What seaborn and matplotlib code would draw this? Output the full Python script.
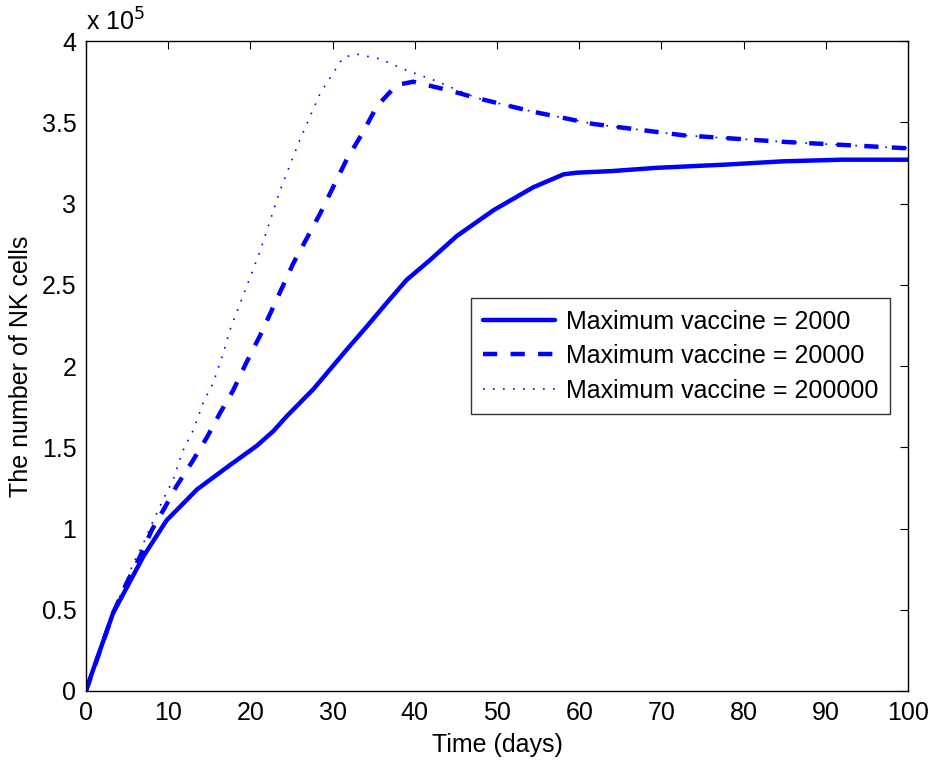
import numpy as np
import pandas as pd
import matplotlib
matplotlib.use("Agg")
import matplotlib.pyplot as plt
import seaborn as sns
from matplotlib.ticker import FuncFormatter

# ========== 1. Data (NK cells) ==========
t_2000 = [0, 0.1, 3.3, 7.0, 9.8, 13.5, 17.5, 20.8, 22.8, 24.4, 27.7, 31.7, 34.1,
          36.6, 39.0, 41.8, 45.1, 49.6, 54.4, 58.1, 59.7, 64.0, 69.4, 77.9, 84.8,
          92.0, 100]
nk_2000 = [0, 2000, 48000, 83000, 105000, 124000, 139000, 151000, 160000, 169000,
           186000, 210000, 224000, 239000, 253000, 265000, 280000, 296000, 310000,
           318000, 319000, 320000, 322000, 324000, 326000, 327000, 327000]

t_20000 = [0, 3.3, 4.9, 6.6, 8.0, 9.6, 11.0, 12.9, 14.7, 16.3, 17.9, 19.5, 21.2,
           25.2, 28.5, 31.7, 33.7, 35.4, 37.8, 39.8, 43.9, 47.5, 54.4, 61.7, 72.7,
           84.8, 100]
nk_20000 = [0, 48000, 66000, 83000, 99000, 113000, 126000, 141000, 156000, 171000,
            185000, 202000, 219000, 263000, 294000, 327000, 344000, 360000, 373000,
            375000, 370000, 365000, 356500, 349000, 342000, 338000, 334000]

t_200000 = [0, 3.3, 5.8, 7.0, 8.2, 9.4, 10.6, 11.8, 13.1, 14.3, 15.5, 16.7, 17.5,
            21.2, 23.6, 26.0, 28.5, 31.3, 32.9, 35.8, 39.0, 42.3, 47.5, 54.4, 61.7,
            72.7, 84.8, 100]
nk_200000 = [0, 48000, 79000, 91000, 105000, 118000, 130000, 148000, 161000, 178000,
             190000, 208000, 222000, 271000, 308000, 339000, 368000, 390000, 392000,
             389000, 382000, 376000, 365000, 356500, 349000, 342000, 338000, 334000]

labels = ["Maximum vaccine = 2000", "Maximum vaccine = 20000", "Maximum vaccine = 200000"]
x_ticks = list(range(0, 101, 10))
y_ticks = [0, 0.5, 1, 1.5, 2, 2.5, 3, 3.5, 4]

# ========== 2. Style ==========
sns.set_style("white")
plt.rcParams['font.family'] = ['Liberation Sans', 'DejaVu Sans']
plt.rcParams['axes.edgecolor'] = 'black'
plt.rcParams['axes.linewidth'] = 1.0
plt.rcParams['text.color'] = 'black'
plt.rcParams['axes.labelcolor'] = 'black'

fig = plt.figure(figsize=(9.44, 7.61), dpi=100)
ax = fig.add_axes([0.0911, 0.092, 0.8708, 0.854])

blue = (0, 0, 1)
series = [
    (t_2000, nk_2000, labels[0], '-', 3.2),
    (t_20000, nk_20000, labels[1], (0, (3.2, 3.0)), 3.2),
    (t_200000, nk_200000, labels[2], (0, (1, 5)), 1.2),
]
for t, nk, lab, ls, lw in series:
    df = pd.DataFrame({'t': t, 'nk': np.array(nk) / 1e5})
    sns.lineplot(data=df, x='t', y='nk', ax=ax, color=blue, linestyle=ls,
                 linewidth=lw, label=lab, sort=False)

# ========== 3. Axes ==========
fs = 18
ax.set_xlim(0, 100)
ax.set_ylim(0, 4)
ax.set_xticks(x_ticks)
ax.set_yticks(y_ticks)
ax.yaxis.set_major_formatter(FuncFormatter(lambda v, p: f"{v:g}"))
ax.tick_params(direction='in', length=6, width=0.8, top=True, right=True,
               labelsize=fs, colors='black', pad=7)
for s in ax.spines.values():
    s.set_visible(True)
    s.set_color('black')

ax.set_xlabel("Time (days)", fontsize=fs, labelpad=6, color='black')
ax.set_ylabel("The number of NK cells", fontsize=fs, labelpad=6, color='black')
ax.text(0.0, 1.008, r"x 10$^5$", transform=ax.transAxes, fontsize=fs,
        ha='left', va='bottom', color='black')

leg = ax.legend(loc='upper right', bbox_to_anchor=(0.978, 0.604), fontsize=fs,
                frameon=True, fancybox=False, edgecolor='black', handlelength=2.9,
                borderpad=0.45, labelspacing=0.42, handletextpad=0.45,
                borderaxespad=0, labelcolor='black')
leg.get_frame().set_linewidth(1.0)

plt.savefig("out.png", dpi=100)
plt.close()
